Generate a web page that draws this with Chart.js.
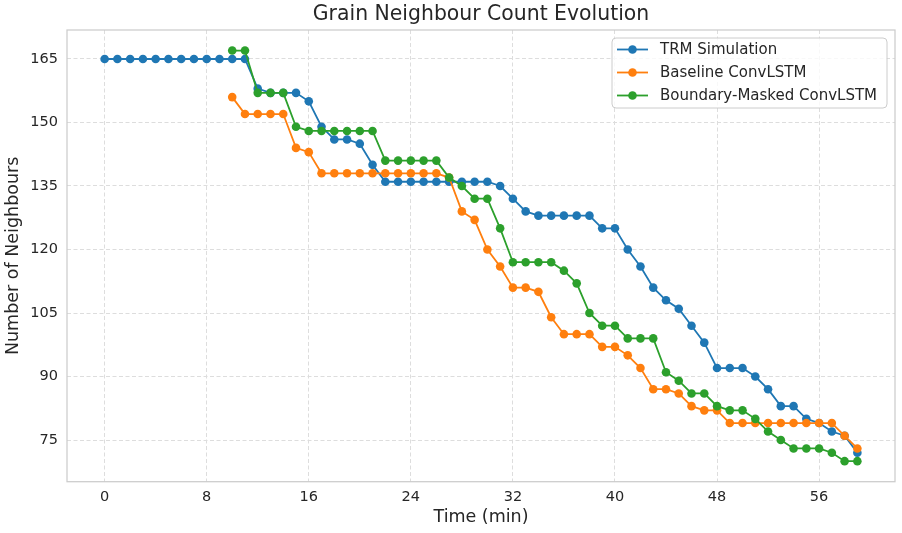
<!DOCTYPE html>
<html lang="en">
<head>
    <meta charset="UTF-8">
    <title>Grain Neighbour Count Evolution</title>
    <script src="https://cdn.jsdelivr.net/npm/chart.js"></script>
    <style>
        html, body { margin: 0; padding: 0; background: #ffffff; }
        #wrap { width: 902px; height: 533px; }
    </style>
</head>
<body>
    <div id="wrap"><canvas id="grafico" width="902" height="533"></canvas></div>
    <script>
        const times = [0, 1, 2, 3, 4, 5, 6, 7, 8, 9, 10, 11, 12, 13, 14, 15, 16, 17, 18, 19,
            20, 21, 22, 23, 24, 25, 26, 27, 28, 29, 30, 31, 32, 33, 34, 35, 36, 37, 38, 39,
            40, 41, 42, 43, 44, 45, 46, 47, 48, 49, 50, 51, 52, 53, 54, 55, 56, 57, 58, 59];

        const trmSimulation = [165, 165, 165, 165, 165, 165, 165, 165, 165, 165, 165, 165,
            158, 157, 157, 157, 155, 149, 146, 146, 145, 140,
            136, 136, 136, 136, 136, 136, 136, 136, 136, 135, 132, 129,
            128, 128, 128, 128, 128, 125, 125, 120, 116, 111, 108, 106, 102, 98,
            92, 92, 92, 90, 87, 83, 83, 80, 79, 77, 76, 72];

        const baselineConvLSTM = [null, null, null, null, null, null, null, null, null, null,
            156, 152, 152, 152, 152, 144, 143,
            138, 138, 138, 138, 138, 138, 138, 138, 138, 138,
            137, 129, 127, 120, 116, 111, 111, 110, 104, 100, 100, 100, 97, 97,
            95, 92, 87, 87, 86, 83, 82, 82,
            79, 79, 79, 79, 79, 79, 79, 79, 79, 76, 73];

        const boundaryMaskedConvLSTM = [null, null, null, null, null, null, null, null, null, null,
            167, 167, 157, 157, 157, 149, 148, 148, 148, 148, 148, 148,
            141, 141, 141, 141, 141, 137, 135, 132, 132, 125,
            117, 117, 117, 117, 115, 112, 105, 102, 102, 99, 99, 99,
            91, 89, 86, 86, 83, 82, 82, 80, 77, 75, 73, 73, 73, 72, 70, 70];

        const xTicks = [0, 8, 16, 24, 32, 40, 48, 56];
        const yTicks = [75, 90, 105, 120, 135, 150, 165];

        const fonte = '"DejaVu Sans", "Liberation Sans", sans-serif';
        const corTexto = '#262626';

        // moldura, titulo e legenda desenhados a mao (estilo matplotlib)
        const estiloPlugin = {
            id: 'estilo',
            beforeDatasetsDraw(chart) {
                const { ctx, chartArea: a } = chart;
                ctx.save();
                ctx.strokeStyle = '#cccccc';
                ctx.lineWidth = 1.25;
                ctx.strokeRect(a.left, a.top, a.right - a.left, a.bottom - a.top);
                ctx.restore();
            },
            afterDatasetsDraw(chart) {
                const { ctx, chartArea: a } = chart;
                ctx.save();
                ctx.fillStyle = corTexto;
                ctx.font = '20.4px ' + fonte;
                ctx.textAlign = 'center';
                ctx.textBaseline = 'middle';
                ctx.fillText('Grain Neighbour Count Evolution', (a.left + a.right) / 2, 15);

                // legenda
                const bx = 612, by = 38, bw = 275, bh = 70;
                ctx.beginPath();
                ctx.roundRect(bx, by, bw, bh, 4);
                ctx.fillStyle = 'rgba(255,255,255,0.8)';
                ctx.fill();
                ctx.strokeStyle = '#cccccc';
                ctx.lineWidth = 1;
                ctx.stroke();

                ctx.font = '15px ' + fonte;
                ctx.textAlign = 'left';
                chart.data.datasets.forEach((ds, i) => {
                    const y = 49.5 + i * 23;
                    ctx.strokeStyle = ds.borderColor;
                    ctx.lineWidth = 1.8;
                    ctx.beginPath();
                    ctx.moveTo(617, y);
                    ctx.lineTo(648, y);
                    ctx.stroke();
                    ctx.fillStyle = ds.borderColor;
                    ctx.beginPath();
                    ctx.arc(632.5, y, 4.3, 0, Math.PI * 2);
                    ctx.fill();
                    ctx.fillStyle = corTexto;
                    ctx.fillText(ds.label, 660, y + 0.5);
                });
                ctx.restore();
            }
        };

        const serie = (label, data, cor, ordem) => ({
            label: label,
            data: data,
            borderColor: cor,
            backgroundColor: cor,
            borderWidth: 1.8,
            pointRadius: 4.3,
            pointBorderWidth: 0,
            pointHoverRadius: 4.3,
            tension: 0,
            order: ordem
        });

        new Chart(document.getElementById('grafico'), {
            type: 'line',
            data: {
                labels: times,
                datasets: [
                    serie('TRM Simulation', trmSimulation, '#1f77b4', 2),
                    serie('Baseline ConvLSTM', baselineConvLSTM, '#ff7f0e', 1),
                    serie('Boundary-Masked ConvLSTM', boundaryMaskedConvLSTM, '#2ca02c', 0)
                ]
            },
            options: {
                responsive: false,
                animation: false,
                layout: { padding: { top: 30, right: 7, left: 0, bottom: 0 } },
                plugins: {
                    legend: { display: false },
                    title: { display: false },
                    tooltip: { enabled: false }
                },
                scales: {
                    x: {
                        type: 'linear',
                        min: -2.95,
                        max: 61.95,
                        afterBuildTicks: (scale) => { scale.ticks = xTicks.map(v => ({ value: v })); },
                        afterFit: (scale) => { scale.height = 51.3; },
                        grid: { color: '#dddddd', lineWidth: 1, drawTicks: false },
                        border: { display: false, dash: [4, 2.5] },
                        ticks: { color: corTexto, font: { family: fonte, size: 14.5 }, padding: 7 },
                        title: {
                            display: true,
                            text: 'Time (min)',
                            color: corTexto,
                            font: { family: fonte, size: 17.5 },
                            padding: { top: 0, bottom: 5 }
                        }
                    },
                    y: {
                        min: 65.15,
                        max: 171.85,
                        afterBuildTicks: (scale) => { scale.ticks = yTicks.map(v => ({ value: v })); },
                        afterFit: (scale) => { scale.width = 67; },
                        grid: { color: '#dddddd', lineWidth: 1, drawTicks: false },
                        border: { display: false, dash: [4, 2.5] },
                        ticks: { color: corTexto, font: { family: fonte, size: 14.5 }, padding: 9 },
                        title: {
                            display: true,
                            text: 'Number of Neighbours',
                            color: corTexto,
                            font: { family: fonte, size: 17.5 },
                            padding: { top: 3, bottom: 0 }
                        }
                    }
                }
            },
            plugins: [estiloPlugin]
        });
    </script>
</body>
</html>
